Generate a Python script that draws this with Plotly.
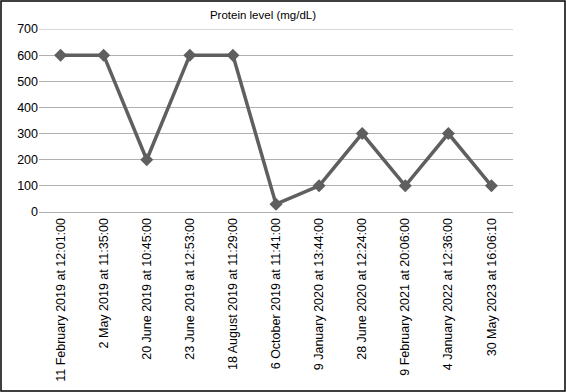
import plotly.graph_objects as go

dates = [
    "11 February 2019 at 12:01:00",
    "2 May 2019 at 11:35:00",
    "20 June 2019 at 10:45:00",
    "23 June 2019 at 12:53:00",
    "18 August 2019 at 11:29:00",
    "6 October 2019 at 11:41:00",
    "9 January 2020 at 13:44:00",
    "28 June 2020 at 12:24:00",
    "9 February 2021 at 20:06:00",
    "4 January 2022 at 12:36:00",
    "30 May 2023 at 16:06:10",
]
protein = [600, 600, 200, 600, 600, 30, 100, 300, 100, 300, 100]
y_ticks = [0, 100, 200, 300, 400, 500, 600, 700]

W, H = 566, 392
L, R, T, B = 39, 53, 29, 180
pw, ph = W - L - R, H - T - B

fig = go.Figure(go.Scatter(
    x=dates, y=protein, mode="lines+markers",
    line=dict(color="#5f5f5f", width=3.5),
    marker=dict(symbol="diamond", size=10, color="#5f5f5f"),
))

fig.update_layout(
    width=W, height=H,
    margin=dict(l=L, r=R, t=T, b=B, autoexpand=False),
    paper_bgcolor="white", plot_bgcolor="white",
    showlegend=False,
    font=dict(family="Liberation Sans, Arial, sans-serif", color="black", size=12),
    title=dict(text="Protein level (mg/dL)", x=263 / W, xanchor="center",
               y=1 - 15 / H, yanchor="middle", font=dict(size=11.5)),
    xaxis=dict(type="category", tickangle=-90, showgrid=False, automargin=False,
               showline=True, linecolor="#b0b0b0", linewidth=1,
               ticks="", tickfont=dict(size=12.5), range=[-0.5, len(dates) - 0.5]),
    yaxis=dict(range=[0, 700], tickvals=y_ticks, showgrid=True, gridcolor="#b0b0b0",
               gridwidth=1, zeroline=False, showline=False, ticks="", automargin=False,
               tickfont=dict(size=12.5)),
    shapes=[
        dict(type="line", xref="paper", yref="y", x0=0, x1=1, y0=700, y1=700,
             line=dict(color="#b0b0b0", width=1)),
        dict(type="rect", xref="paper", yref="paper",
             x0=-(L - 1) / pw, x1=1 + (R - 1) / pw,
             y0=-(B - 1) / ph, y1=1 + (T - 1) / ph,
             line=dict(color="black", width=1.5)),
    ],
)

fig.write_html("out.html", config={"displayModeBar": False},
               post_script="document.body.style.margin='0px';")
